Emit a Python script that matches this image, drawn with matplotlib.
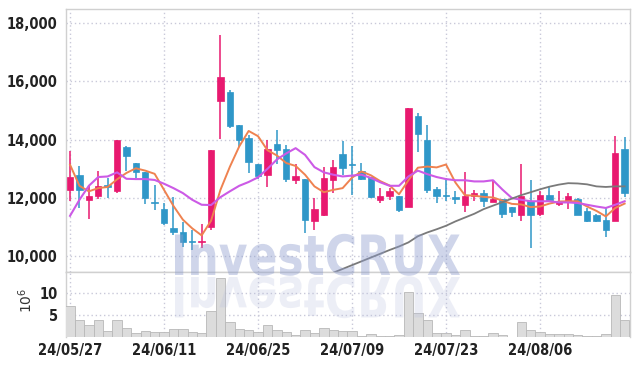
import numpy as np
import pandas as pd
import matplotlib
matplotlib.use("Agg")
import matplotlib.pyplot as plt
from matplotlib import font_manager
from matplotlib.textpath import TextPath
from matplotlib.patches import PathPatch
from matplotlib.font_manager import FontProperties
from matplotlib.transforms import Affine2D

# trading days (KRX holidays 6/6 and 8/15 removed)
dates = [d for d in pd.bdate_range('2024-05-27', '2024-08-20')
         if d.strftime('%m-%d') not in ('06-06', '08-15')]

opens = [12260, 12800, 11920, 12060, 12440, 12230, 13750, 13200, 12890, 11870,
         11630, 10980, 10830, 10540, 10490, 11010, 15310, 15640, 14510, 14060,
         13180, 12780, 13860, 13690, 12610, 12660, 11200, 11430, 12610, 13510,
         13180, 12910, 12710, 11920, 12060, 12080, 11710, 14820, 14000, 12320,
         12110, 12020, 11750, 12060, 12190, 11870, 11970, 11700, 11410, 11890,
         11450, 12110, 11780, 11890, 11970, 11570, 11410, 11260, 11200, 13690]
closes = [12720, 12290, 12080, 12420, 12370, 13990, 13430, 12880, 12000, 11820,
          11140, 10820, 10510, 10500, 10540, 13660, 16150, 14460, 14000, 13220,
          12770, 13690, 13660, 12660, 12740, 11260, 11630, 12690, 13060, 13030,
          13120, 12650, 12030, 12080, 12250, 11600, 15090, 14190, 12290, 12080,
          12080, 11970, 12080, 12170, 11890, 11970, 11460, 11510, 12060, 11410,
          12110, 11940, 11870, 12080, 11430, 11230, 11200, 10890, 13540, 12190]
highs = [13600, 13090, 12400, 12910, 12690, 14000, 13790, 13200, 12890, 12460,
         11830, 12030, 11170, 10910, 11110, 13660, 17600, 15710, 14510, 14170,
         13180, 14000, 14340, 13810, 13180, 12660, 12000, 13050, 13310, 13940,
         13790, 13200, 12710, 12340, 12340, 12080, 15090, 14910, 14490, 12380,
         12690, 12230, 12880, 12290, 12290, 12610, 11970, 11700, 13170, 12630,
         12230, 12400, 12230, 12170, 12000, 11660, 11460, 11660, 14140, 14090]
lows = [11890, 11660, 11280, 11970, 12000, 12170, 12910, 12690, 11810, 11600,
        11060, 10740, 10320, 10210, 10290, 10890, 14020, 14400, 13750, 12860,
        12650, 12380, 13180, 12540, 12490, 10800, 10890, 11370, 12190, 12800,
        12110, 12630, 12000, 11830, 11940, 11520, 11690, 13570, 12170, 11830,
        11890, 11810, 11520, 11910, 11710, 11850, 11310, 11350, 11200, 10290,
        11370, 11940, 11740, 11620, 11430, 11170, 11170, 10660, 11200, 12030]
volumes = [7.1, 3.9, 2.7, 3.9, 1.4, 3.9, 2.0, 0.9, 1.4, 1.2,
           1.2, 1.8, 1.8, 1.2, 0.9, 6.0, 13.4, 3.4, 1.9, 1.7,
           1.2, 2.7, 1.7, 1.2, 0.45, 1.6, 1.0, 2.0, 1.7, 1.4,
           1.4, 0.3, 0.7, 0.2, 0.2, 0.45, 10.2, 5.4, 3.9, 1.0,
           1.0, 0.45, 1.6, 0.3, 0.2, 1.0, 0.45, 0.1, 3.4, 1.7,
           1.2, 0.7, 0.6, 0.7, 0.45, 0.2, 0.2, 0.7, 9.6, 3.9]

ma5 = [13140, 12420, 12230, 12340, 12380, 12640, 12860, 13020, 12940, 12830,
       12280, 11730, 11260, 10960, 10720, 11220, 12280, 13070, 13770, 14300,
       14120, 13640, 13460, 13200, 13100, 12800, 12400, 12200, 12280, 12340,
       12700, 12910, 12780, 12580, 12430, 12130, 12610, 13040, 13080, 13050,
       13150, 12530, 12100, 12080, 12040, 12020, 11910, 11800, 11780, 11690,
       11710, 11810, 11880, 11890, 11890, 11710, 11560, 11370, 11660, 11810]
ma10 = [11390, 11940, 12420, 12720, 12740, 12880, 12660, 12650, 12650, 12620,
        12490, 12340, 12170, 11940, 11770, 11760, 12030, 12230, 12420, 12550,
        12710, 13000, 13320, 13530, 13710, 13480, 13060, 12880, 12800, 12740,
        12770, 12800, 12690, 12540, 12420, 12420, 12740, 12940, 12820, 12720,
        12650, 12610, 12610, 12570, 12570, 12610, 12290, 12000, 11940, 11890,
        11890, 11890, 11850, 11850, 11830, 11770, 11710, 11660, 11770, 11890]
ma_long = [np.nan] * 28 + [
    9440, 9570, 9700, 9830, 9960, 10090, 10220, 10340, 10480, 10690,
    10820, 10930, 11050, 11200, 11330, 11460, 11620, 11740, 11860, 11980,
    12100, 12200, 12300, 12390, 12460, 12510, 12500, 12470, 12400, 12380,
    12400, 12400]

UP = '#e8196f'
DOWN = '#2f97c8'
GRID = '#c9c9d9'

# pick a narrow face for the tick labels if one is installed
narrow = None
for f in font_manager.fontManager.ttflist:
    if f.name == 'Liberation Sans Narrow':
        narrow = ('Liberation Sans Narrow', 'normal')
        break
if narrow is None:
    for f in font_manager.fontManager.ttflist:
        if f.name == 'DejaVu Sans' and 'condensed' in str(f.stretch):
            narrow = ('DejaVu Sans', 'condensed')
            break
if narrow is None:
    tick_fp = dict(family='Roboto', stretch='normal', size=9.8)
else:
    tick_fp = dict(family=narrow[0], stretch=narrow[1], size=10.5)

x = np.arange(len(closes))

fig = plt.figure(figsize=(6.39, 3.66), dpi=100)
W, H = 639, 366
ax = fig.add_axes([66 / W, (H - 272) / H, 564 / W, 263 / H])
axv = fig.add_axes([66 / W, (H - 337) / H, 564 / W, 65 / H], sharex=ax)

# candles
for i in x:
    o, c, h, l = opens[i], closes[i], highs[i], lows[i]
    col = UP if c >= o else DOWN
    ax.vlines(i, l, h, color=col, lw=1.1, zorder=3)
    ax.bar(i, max(abs(c - o), 25), bottom=min(o, c), width=0.68,
           color=col, edgecolor=col, linewidth=0.5, zorder=4)

ax.plot(x, ma5, color='#ef8250', lw=1.4, zorder=5)
ax.plot(x, ma10, color='#cc5ae6', lw=1.5, zorder=5)
ax.plot(x, ma_long, color='#7a7a7a', lw=1.3, zorder=5)

axv.bar(x, volumes, width=1.0, color='#dcdcdc', edgecolor='#b8b8b8',
        linewidth=0.6, zorder=3)

ax.set_xlim(-0.43, 59.57)
ax.set_ylim(9465, 18480)
axv.set_ylim(0, 14.8)

ax.set_yticks([10000, 12000, 14000, 16000, 18000])
ax.set_yticklabels([f'{v:,}' for v in [10000, 12000, 14000, 16000, 18000]])
axv.set_yticks([5, 10])
axv.set_yticklabels(['5', '10'])
tick_pos = x[::10]
axv.set_xticks(tick_pos)
axv.set_xticklabels([dates[i].strftime('%y/%m/%d') for i in tick_pos])
plt.setp(ax.get_xticklabels(), visible=False)

for a in (ax, axv):
    a.grid(True, color=GRID, linestyle=(0, (1, 2)), linewidth=1.0)
    a.set_axisbelow(True)
    a.tick_params(length=0, colors='#222222', pad=6)
    for lab in a.get_xticklabels() + a.get_yticklabels():
        lab.set_family(tick_fp['family'])
        lab.set_stretch(tick_fp['stretch'])
        lab.set_fontsize(tick_fp['size'])
        lab.set_fontweight('bold')
    for s in a.spines.values():
        s.set_color('#d0d0d0')
        s.set_linewidth(1.0)
axv.spines['bottom'].set_visible(False)
ax.spines['bottom'].set_color('#c8c8c8')
axv.tick_params(axis='x', pad=4)

axv.set_ylabel(r'$10^6$', fontsize=10, color='#333333')
axv.yaxis.set_label_coords(-(66 - 35) / 564, 0.57)

# watermark with reflection
over = fig.add_axes([0, 0, 1, 1], facecolor='none')
over.set_xlim(0, W)
over.set_ylim(0, H)
over.axis('off')
fp = FontProperties(family='DejaVu Sans', weight='bold')
tp = TextPath((0, 0), 'InvestCRUX', size=50, prop=fp)
bb = tp.get_extents()
sx = 285 / bb.width
sy = 42 / bb.height
base_y = H - 275
t_main = Affine2D().translate(-bb.x0, 0).scale(sx, sy).translate(175, base_y)
t_refl = Affine2D().translate(-bb.x0, 0).scale(sx, -sy).translate(175, base_y - 2)
over.add_patch(PathPatch(t_main.transform_path(tp), facecolor='#8d9ccd',
                         edgecolor='none', alpha=0.42))
over.add_patch(PathPatch(t_refl.transform_path(tp), facecolor='#b7bedd',
                         edgecolor='none', alpha=0.25))

fig.savefig('out.png', dpi=100)
